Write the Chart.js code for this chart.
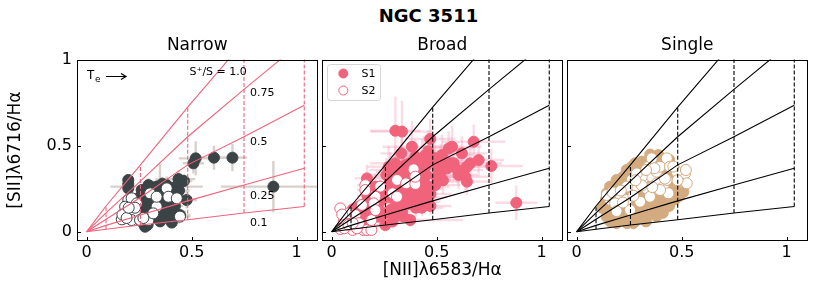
<!DOCTYPE html>
<html>
<head>
<meta charset="utf-8">
<script src="https://cdn.jsdelivr.net/npm/chart.js@4.4.1/dist/chart.umd.min.js"></script>
<style>
  body { margin: 0; background: #fff; }
  #wrap { position: relative; width: 830px; height: 294px; background: #fff; }
  #wrap canvas { position: absolute; left: 0; top: 0; }
  #sup { position: absolute; left: 328px; top: 5px; width: 201px; line-height: 21px;
         text-align: center; font: bold 18px "DejaVu Sans"; color: #000; }
</style>
</head>
<body>
<div id="wrap">
  <div id="sup">NGC 3511</div>
  <canvas id="cNarrow" width="830" height="294"></canvas>
  <canvas id="cBroad" width="830" height="294"></canvas>
  <canvas id="cSingle" width="830" height="294"></canvas>
</div>
<script>
// grid of model curves (x positions of the Te steps)
const gridX = [0, 0.092, 0.256, 0.481, 0.749, 1.036];
const ratio100 = [0, 0.15, 0.39, 0.727, 1.11, 1.5];
const ratio075 = [0, 0.11, 0.295, 0.554, 0.83, 1.12];
const ratio050 = [0, 0.073, 0.2, 0.39, 0.554, 0.738];
const ratio025 = [0, 0.037, 0.098, 0.18, 0.273, 0.37];
const ratio010 = [0, 0.014, 0.039, 0.07, 0.109, 0.147];
const ratioCurves = [ratio100, ratio075, ratio050, ratio025, ratio010];

const tickVals = [0, 0.5, 1];
const tickText = ['0', '0.5', '1'];
const panelNames = ['Narrow', 'Broad', 'Single'];
const seriesNames = ['S1', 'S2'];
const annText = ['S\u207A/S = 1.0', '0.75', '0.5', '0.25', '0.1'];
const annX = [0.49, 0.778, 0.778, 0.778, 0.778];
const annY = [0.93, 0.809, 0.52, 0.21, 0.05];

// [x, y, xerr, yerr]
const narrowS1 = [
  [0.519,0.428,0.08,0.10],[0.508,0.399,0.05,0.06],[0.606,0.432,0.06,0.07],[0.694,0.432,0.07,0.08],
  [0.437,0.307,0.08,0.05],[0.463,0.296,0.04,0.04],[0.476,0.185,0.05,0.05],[0.889,0.263,0.25,0.15],
  [0.198,0.302,0.02,0.03],[0.198,0.278,0.02,0.03],[0.198,0.253,0.02,0.03],[0.294,0.272,0.04,0.04],
  [0.333,0.263,0.22,0.05],[0.381,0.272,0.05,0.05],[0.405,0.243,0.05,0.04],[0.421,0.224,0.04,0.04],
  [0.349,0.224,0.04,0.17],[0.302,0.204,0.03,0.03],[0.286,0.165,0.03,0.03],[0.349,0.165,0.04,0.04],
  [0.397,0.165,0.04,0.04],[0.429,0.204,0.04,0.04],[0.325,0.126,0.03,0.03],[0.381,0.107,0.04,0.03],
  [0.270,0.107,0.03,0.03],[0.278,0.029,0.03,0.02],[0.405,0.053,0.04,0.03],[0.310,0.078,0.03,0.02],
  [0.365,0.126,0.04,0.03],[0.413,0.117,0.06,0.05],[0.444,0.097,0.05,0.04],[0.262,0.243,0.03,0.03],
  [0.357,0.195,0.04,0.04],[0.238,0.088,0.02,0.02],[0.175,0.078,0.02,0.02],[0.270,0.185,0.03,0.03],
  [0.25,0.20,0.03,0.03],[0.26,0.14,0.03,0.03],[0.29,0.12,0.03,0.03],[0.31,0.18,0.03,0.03],
  [0.32,0.23,0.03,0.03],[0.34,0.25,0.04,0.04],[0.36,0.28,0.04,0.04],[0.38,0.24,0.04,0.04],
  [0.40,0.19,0.04,0.04],[0.42,0.15,0.04,0.04],[0.37,0.14,0.03,0.03],[0.33,0.09,0.03,0.03],
  [0.35,0.06,0.03,0.03],[0.29,0.04,0.03,0.02],[0.26,0.06,0.03,0.02],[0.39,0.08,0.04,0.03],
  [0.42,0.09,0.04,0.03],[0.31,0.26,0.04,0.04],[0.28,0.22,0.03,0.03],[0.43,0.27,0.05,0.04],
  [0.44,0.24,0.05,0.04],[0.22,0.12,0.02,0.02],[0.21,0.09,0.02,0.02],[0.24,0.16,0.03,0.03]
];
const narrowS2 = [
  [0.167,0.072,0.02,0.02],[0.190,0.117,0.02,0.02],[0.198,0.185,0.02,0.02],[0.214,0.195,0.02,0.02],
  [0.183,0.146,0.02,0.02],[0.238,0.165,0.02,0.02],[0.230,0.117,0.02,0.02],[0.214,0.068,0.02,0.02],
  [0.294,0.068,0.03,0.02],[0.302,0.224,0.03,0.03],[0.333,0.146,0.03,0.03],[0.317,0.107,0.03,0.02],
  [0.381,0.253,0.03,0.03],[0.389,0.204,0.03,0.03],[0.429,0.195,0.03,0.03],[0.444,0.088,0.05,0.03],
  [0.333,0.204,0.03,0.03],[0.254,0.068,0.02,0.02],[0.17,0.10,0.02,0.02],[0.19,0.08,0.02,0.02],
  [0.23,0.14,0.02,0.02],[0.20,0.14,0.02,0.02],[0.27,0.08,0.02,0.02]
];
const broadS1 = [
  [0.303,0.589,0.12,0.2],[0.335,0.584,0.15,0.18],[0.469,0.541,0.12,0.12],[0.382,0.496,0.14,0.15],
  [0.332,0.457,0.1,0.12],[0.303,0.399,0.12,0.1],[0.350,0.389,0.1,0.1],[0.398,0.438,0.12,0.1],
  [0.430,0.418,0.1,0.12],[0.446,0.379,0.1,0.08],[0.477,0.409,0.12,0.1],[0.525,0.447,0.15,0.12],
  [0.557,0.486,0.12,0.1],[0.573,0.496,0.14,0.12],[0.620,0.457,0.12,0.1],[0.676,0.525,0.15,0.1],
  [0.700,0.418,0.12,0.08],[0.660,0.399,0.15,0.1],[0.644,0.379,0.12,0.08],[0.604,0.331,0.1,0.08],
  [0.636,0.321,0.12,0.08],[0.644,0.292,0.1,0.08],[0.565,0.399,0.12,0.1],[0.509,0.370,0.1,0.1],
  [0.760,0.383,0.15,0.1],[0.879,0.169,0.1,0.1],[0.168,0.311,0.06,0.08],[0.208,0.263,0.06,0.08],
  [0.271,0.321,0.08,0.1],[0.295,0.282,0.08,0.08],[0.319,0.340,0.1,0.1],[0.366,0.321,0.1,0.1],
  [0.398,0.282,0.1,0.08],[0.438,0.292,0.1,0.08],[0.461,0.263,0.1,0.08],[0.493,0.272,0.12,0.08],
  [0.414,0.233,0.08,0.06],[0.350,0.204,0.08,0.06],[0.319,0.165,0.06,0.06],[0.382,0.185,0.08,0.06],
  [0.438,0.175,0.08,0.06],[0.279,0.126,0.06,0.05],[0.303,0.204,0.08,0.06],[0.240,0.185,0.06,0.05],
  [0.374,0.068,0.25,0.04],[0.255,0.039,0.05,0.04],[0.224,0.088,0.05,0.04],[0.160,0.107,0.04,0.04],
  [0.128,0.146,0.04,0.05],[0.096,0.068,0.04,0.04],[0.144,0.049,0.04,0.04],[0.287,0.243,0.08,0.08],
  [0.366,0.243,0.1,0.08],[0.335,0.117,0.06,0.05],[0.398,0.360,0.12,0.1],[0.271,0.379,0.1,0.12],
  [0.26,0.33,0.08,0.1],[0.28,0.36,0.1,0.1],[0.31,0.35,0.1,0.1],[0.34,0.36,0.1,0.1],
  [0.37,0.40,0.12,0.12],[0.41,0.40,0.12,0.1],[0.44,0.44,0.12,0.12],[0.46,0.47,0.14,0.12],
  [0.42,0.34,0.1,0.08],[0.45,0.33,0.1,0.08],[0.35,0.30,0.08,0.08],[0.32,0.26,0.08,0.08],
  [0.27,0.27,0.06,0.08],[0.26,0.22,0.06,0.06],[0.28,0.20,0.06,0.06],[0.33,0.22,0.08,0.06],
  [0.38,0.22,0.08,0.06],[0.43,0.25,0.1,0.08],[0.47,0.22,0.1,0.06],[0.45,0.20,0.1,0.06],
  [0.41,0.20,0.08,0.06],[0.36,0.16,0.08,0.05],[0.40,0.14,0.08,0.05],[0.43,0.14,0.1,0.05],
  [0.47,0.15,0.1,0.05],[0.30,0.14,0.06,0.05],[0.26,0.11,0.05,0.04],[0.30,0.09,0.06,0.04],
  [0.34,0.09,0.06,0.04],[0.29,0.06,0.06,0.04],[0.24,0.10,0.05,0.04],[0.22,0.14,0.05,0.05],
  [0.20,0.11,0.04,0.04],[0.18,0.16,0.05,0.05],[0.17,0.21,0.05,0.06],[0.23,0.24,0.06,0.06],
  [0.12,0.11,0.04,0.04],[0.10,0.13,0.04,0.04],[0.13,0.08,0.04,0.04],[0.52,0.35,0.12,0.08],
  [0.55,0.37,0.12,0.08],[0.58,0.40,0.12,0.1],[0.53,0.30,0.1,0.08],[0.50,0.32,0.1,0.08],
  [0.60,0.36,0.12,0.08],[0.49,0.43,0.12,0.1],[0.52,0.41,0.12,0.1]
];
const broadS2 = [
  [0.041,0.136,0.02,0.03],[0.057,0.058,0.02,0.02],[0.041,0.016,0.02,0.02],[0.100,0.010,0.02,0.02],
  [0.152,0.010,0.02,0.02],[0.168,0.010,0.02,0.02],[0.189,0.010,0.02,0.02],[0.189,0.068,0.03,0.03],
  [0.160,0.272,0.04,0.05],[0.160,0.243,0.04,0.05],[0.208,0.204,0.04,0.04],[0.200,0.165,0.04,0.04],
  [0.144,0.156,0.03,0.04],[0.231,0.263,0.05,0.05],[0.208,0.126,0.04,0.04],[0.081,0.107,0.03,0.03],
  [0.113,0.097,0.03,0.03],[0.390,0.364,0.06,0.06],[0.311,0.302,0.06,0.06],[0.354,0.282,0.06,0.06],
  [0.398,0.278,0.06,0.06],[0.290,0.224,0.05,0.05],[0.311,0.204,0.05,0.05],[0.398,0.321,0.06,0.06],
  [0.06,0.02,0.02,0.02],[0.08,0.04,0.02,0.02],[0.12,0.02,0.02,0.02],[0.13,0.05,0.02,0.02],
  [0.05,0.10,0.02,0.02],[0.10,0.05,0.02,0.02]
];
const singleS1 = [
  [0.389,0.447],[0.310,0.409],[0.262,0.379],[0.222,0.321],[0.190,0.302],[0.159,0.263],[0.143,0.224],
  [0.135,0.165],[0.143,0.088],[0.222,0.078],[0.270,0.068],[0.317,0.078],[0.365,0.107],[0.397,0.146],
  [0.429,0.185],[0.452,0.243],[0.508,0.233],[0.468,0.321],[0.429,0.360],[0.349,0.360],[0.286,0.321],
  [0.238,0.243],[0.317,0.263],[0.381,0.263],[0.333,0.185],[0.286,0.146],[0.254,0.126],[0.397,0.195],
  [0.206,0.165],[0.302,0.224],[0.238,0.195],[0.349,0.126],[0.413,0.302],[0.278,0.399],[0.238,0.360],
  [0.183,0.146],[0.373,0.185],[0.175,0.097],[0.310,0.117],[0.286,0.068],
  [0.16,0.06],[0.19,0.05],[0.24,0.05],[0.27,0.05],[0.33,0.06],[0.38,0.09],[0.41,0.11],[0.44,0.15],
  [0.47,0.19],[0.49,0.21],[0.15,0.12],[0.17,0.20],[0.19,0.24],[0.21,0.28],[0.24,0.32],[0.26,0.34],
  [0.29,0.38],[0.33,0.40],[0.36,0.42],[0.40,0.41],[0.44,0.35],[0.47,0.28],[0.42,0.22],[0.36,0.17],
  [0.31,0.14],[0.27,0.10],[0.22,0.11],[0.20,0.13],[0.25,0.18],[0.28,0.22],[0.33,0.28],[0.37,0.31],
  [0.40,0.34],[0.35,0.24],[0.41,0.27],[0.45,0.30],[0.30,0.30],[0.26,0.27],[0.22,0.19],[0.32,0.34],
  [0.38,0.38],[0.44,0.42],[0.35,0.45],[0.12,0.14],[0.14,0.19]
];
const singleS2 = [
  [0.206,0.214],[0.159,0.185],[0.143,0.214],[0.183,0.165],[0.238,0.185],[0.302,0.175],[0.286,0.263],
  [0.317,0.311],[0.357,0.321],[0.381,0.350],[0.429,0.428],[0.397,0.379],[0.341,0.379],[0.310,0.321],
  [0.262,0.302],[0.286,0.340],[0.381,0.282],[0.413,0.263],[0.333,0.253],[0.429,0.302],[0.444,0.379],
  [0.516,0.340],[0.524,0.282],[0.476,0.350],[0.437,0.224],[0.254,0.126],[0.349,0.204],[0.397,0.243],
  [0.238,0.263],[0.357,0.428],
  [0.17,0.23],[0.21,0.24],[0.27,0.21],[0.31,0.27],[0.36,0.26],[0.42,0.31],[0.46,0.38],[0.37,0.37],
  [0.33,0.36],[0.28,0.30],[0.48,0.30],[0.52,0.36],[0.22,0.17],[0.19,0.12]
];

const FONT = 'DejaVu Sans';
const panelLeft = [77, 322, 567];
const panelW = 240.5;
const xMin = -0.0462, xMax = 1.099;
const yMin = -0.0525, yMax = 1.0047;

function toPts(arr) { return arr.map(p => ({ x: p[0], y: p[1], xe: p[2] || 0, ye: p[3] || 0 })); }

const errPlugin = {
  id: 'errbars',
  beforeDatasetsDraw(chart) {
    const { ctx, chartArea: a, scales: { x, y } } = chart;
    ctx.save();
    ctx.beginPath(); ctx.rect(a.left, a.top, a.width, a.height); ctx.clip();
    chart.data.datasets.forEach(ds => {
      if (!ds.errColor) return;
      ctx.strokeStyle = ds.errColor; ctx.lineWidth = ds.errWidth;
      ds.data.forEach(p => {
        const px = x.getPixelForValue(p.x), py = y.getPixelForValue(p.y);
        ctx.beginPath();
        if (p.xe) { ctx.moveTo(x.getPixelForValue(p.x - p.xe), py); ctx.lineTo(x.getPixelForValue(p.x + p.xe), py); }
        if (p.ye) { ctx.moveTo(px, y.getPixelForValue(p.y - p.ye)); ctx.lineTo(px, y.getPixelForValue(p.y + p.ye)); }
        ctx.stroke();
      });
    });
    ctx.restore();
  },
  afterDraw(chart) {
    const { ctx, chartArea: a, scales: { x, y } } = chart;
    const o = chart.options.plugins.extra;
    ctx.save();
    ctx.strokeStyle = '#000'; ctx.lineWidth = 1;
    const l = Math.round(a.left) + 0.5, r = Math.round(a.right) - 0.5;
    const t = Math.round(a.top) + 0.5, b = Math.round(a.bottom) - 0.5;
    ctx.strokeRect(l, t, r - l, b - t);
    ctx.beginPath();
    tickVals.forEach(v => {
      const px = Math.round(x.getPixelForValue(v)) + 0.5;
      ctx.moveTo(px, b); ctx.lineTo(px, b - 3.5);
      const py = Math.round(y.getPixelForValue(v)) + 0.5;
      ctx.moveTo(l, py); ctx.lineTo(l + 3.5, py);
    });
    ctx.stroke();

    if (o.annotate) {
      ctx.fillStyle = '#000';
      ctx.font = '11px "' + FONT + '"';
      ctx.textBaseline = 'middle'; ctx.textAlign = 'left';
      annText.forEach((s, i) => ctx.fillText(s, x.getPixelForValue(annX[i]), y.getPixelForValue(annY[i])));
      // Te arrow
      ctx.font = '12px "' + FONT + '"';
      ctx.fillText('T', 87, 76);
      ctx.font = '9px "' + FONT + '"';
      ctx.fillText('e', 95, 80);
      ctx.beginPath(); ctx.lineWidth = 1.2;
      ctx.moveTo(106, 76.5); ctx.lineTo(126, 76.5);
      ctx.moveTo(121, 73.5); ctx.lineTo(126, 76.5); ctx.lineTo(121, 79.5);
      ctx.stroke();
    }
    if (o.legend) {
      const bx = 327.5, by = 64.5, bw = 53, bh = 36, rr = 3;
      ctx.beginPath();
      ctx.moveTo(bx + rr, by); ctx.lineTo(bx + bw - rr, by); ctx.quadraticCurveTo(bx + bw, by, bx + bw, by + rr);
      ctx.lineTo(bx + bw, by + bh - rr); ctx.quadraticCurveTo(bx + bw, by + bh, bx + bw - rr, by + bh);
      ctx.lineTo(bx + rr, by + bh); ctx.quadraticCurveTo(bx, by + bh, bx, by + bh - rr);
      ctx.lineTo(bx, by + rr); ctx.quadraticCurveTo(bx, by, bx + rr, by);
      ctx.fillStyle = 'rgba(255,255,255,0.85)'; ctx.fill();
      ctx.strokeStyle = '#d6d6d6'; ctx.lineWidth = 1; ctx.stroke();
      ctx.lineWidth = 1;
      ctx.beginPath(); ctx.arc(343.3, 73.5, 4.5, 0, Math.PI * 2);
      ctx.fillStyle = o.legend; ctx.fill(); ctx.strokeStyle = o.legend; ctx.stroke();
      ctx.beginPath(); ctx.arc(343.3, 90.5, 4.5, 0, Math.PI * 2);
      ctx.fillStyle = '#fff'; ctx.fill(); ctx.strokeStyle = o.legend; ctx.stroke();
      ctx.fillStyle = '#000'; ctx.font = '11px "' + FONT + '"';
      ctx.textBaseline = 'middle'; ctx.textAlign = 'left';
      ctx.fillText(seriesNames[0], 361.5, 74);
      ctx.fillText(seriesNames[1], 361.5, 91);
    }
    ctx.restore();
  }
};

function makePanel(id, idx, s1, s2, col, lineCol, errCol, extra) {
  const datasets = [];
  ratioCurves.forEach(c => {
    datasets.push({ data: gridX.map((gx, i) => ({ x: gx, y: c[i] })), showLine: true,
      borderColor: lineCol, borderWidth: 1.1, pointRadius: 0, order: 0 });
  });
  gridX.forEach((gx, i) => {
    if (i === 0) return;
    datasets.push({ data: [{ x: gx, y: ratio010[i] }, { x: gx, y: ratio100[i] }], showLine: true,
      borderColor: lineCol, borderWidth: 1.1, borderDash: [4, 2], pointRadius: 0, order: 0 });
  });
  datasets.push({ label: seriesNames[1], data: toPts(s2), pointRadius: 5.5, pointBackgroundColor: '#fff',
    pointBorderColor: col, pointBorderWidth: 1, order: 1, errColor: errCol, errWidth: 2.4 });
  datasets.push({ label: seriesNames[0], data: toPts(s1), pointRadius: 5.5, pointBackgroundColor: col,
    pointBorderColor: col, pointBorderWidth: 1, order: 2, errColor: errCol, errWidth: 2.4 });

  const tickFont = { family: FONT, size: 16 };
  new Chart(document.getElementById(id), {
    type: 'scatter',
    data: { datasets },
    options: {
      responsive: false, animation: false, events: [],
      layout: { padding: { left: idx === 0 ? 0 : panelLeft[idx], right: 830 - panelLeft[idx] - panelW, top: 0, bottom: 0 } },
      plugins: {
        legend: { display: false }, tooltip: { enabled: false },
        title: { display: true, text: panelNames[idx], fullSize: false, color: '#000',
          font: { family: FONT, size: 17, weight: 'normal' }, padding: { top: 35.5, bottom: 3.6 } },
        extra
      },
      scales: {
        x: {
          type: 'linear', min: xMin, max: xMax,
          grid: { display: false, drawTicks: false }, border: { display: false },
          afterBuildTicks: s => { s.ticks = tickVals.map(v => ({ value: v })); },
          afterFit: s => { s.height = 294 - 240.7; },
          ticks: { color: '#000', font: tickFont, padding: 3, maxRotation: 0, autoSkip: false,
            callback: (v, i) => tickText[i] },
          title: { display: idx === 1, text: '[NII]\u03BB6583/H\u03B1', color: '#000',
            font: { family: FONT, size: 17 }, padding: { top: 0, bottom: 12.8 } }
        },
        y: {
          type: 'linear', min: yMin, max: yMax,
          grid: { display: false, drawTicks: false }, border: { display: false },
          afterBuildTicks: s => { s.ticks = tickVals.map(v => ({ value: v })); },
          afterFit: s => { s.width = idx === 0 ? panelLeft[0] : 0; },
          ticks: { display: idx === 0, color: '#000', font: tickFont, padding: 5,
            callback: (v, i) => tickText[i] },
          title: { display: idx === 0, text: '[SII]\u03BB6716/H\u03B1', color: '#000',
            font: { family: FONT, size: 17 }, padding: { top: 5.6, bottom: 0 } }
        }
      }
    },
    plugins: [errPlugin]
  });
}

makePanel('cNarrow', 0, narrowS1, narrowS2, '#3a4345', '#f0637b', '#d8d1cb', { annotate: true });
makePanel('cBroad', 1, broadS1, broadS2, '#f0637b', '#000', 'rgba(244,150,175,0.33)', { legend: '#f0637b' });
makePanel('cSingle', 2, singleS1, singleS2, '#d4aa7f', '#000', null, {});
</script>
</body>
</html>
